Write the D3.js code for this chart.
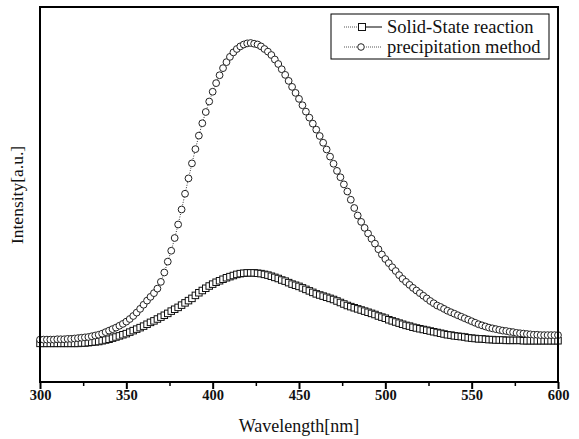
<!DOCTYPE html>
<html lang="en">
<head>
  <meta charset="UTF-8" />
  <title>Emission spectra</title>
  <script src="https://d3js.org/d3.v7.min.js"></script>
  <style>
    body { margin: 0; background: #fff; }
    svg { display: block; }
    svg text { font-family: "Times New Roman", "Liberation Serif", serif; }
  </style>
</head>
<body>
  <svg width="579" height="439"></svg>
  <script>
    // wavelength grid: one marker every 2 nm, 300..600
    const wlStart = 300, wlStep = 2;
    const xTicks = [300, 350, 400, 450, 500, 550, 600];
    const xMinorTicks = [325, 375, 425, 475, 525, 575];

    // precipitation method (circles), arbitrary units
    const precipitation = [
      11.3, 11.3, 11.3, 11.3, 11.3, 11.4, 11.4, 11.4, 11.5, 11.5,
      11.6, 11.7, 11.8, 11.9, 12.0, 12.2, 12.4, 12.6, 12.9, 13.3,
      13.7, 14.1, 14.5, 15.0, 15.5, 16.1, 16.8, 17.6, 18.5, 19.5,
      20.6, 21.7, 22.7, 23.7, 24.9, 26.7, 29.2, 32.1, 35.0, 38.4,
      42.0, 46.0, 50.2, 54.3, 58.3, 62.1, 65.7, 69.0, 72.0, 74.8,
      77.4, 79.7, 81.8, 83.7, 85.3, 86.7, 87.9, 88.8, 89.5, 90.0,
      90.3, 90.4, 90.2, 90.0, 89.5, 88.8, 88.1, 87.2, 86.0, 84.8,
      83.4, 81.9, 80.3, 78.7, 77.1, 75.5, 73.8, 72.1, 70.5, 68.9,
      67.3, 65.6, 63.8, 62.0, 60.1, 58.2, 56.3, 54.6, 52.7, 50.8,
      48.6, 46.4, 44.4, 42.7, 41.1, 39.6, 38.2, 36.9, 35.4, 34.0,
      32.8, 31.7, 30.6, 29.6, 28.5, 27.5, 26.7, 25.9, 25.1, 24.4,
      23.7, 23.0, 22.3, 21.6, 21.0, 20.4, 20.0, 19.5, 19.0, 18.6,
      18.2, 17.8, 17.4, 17.0, 16.6, 16.2, 15.8, 15.4, 15.1, 14.8,
      14.5, 14.3, 14.1, 13.9, 13.7, 13.6, 13.4, 13.3, 13.1, 13.0,
      12.9, 12.8, 12.7, 12.6, 12.6, 12.5, 12.5, 12.5, 12.5, 12.5,
      12.5
    ];

    // solid-state reaction (squares)
    const solidState = [
      10.3, 10.3, 10.3, 10.3, 10.3, 10.3, 10.3, 10.3, 10.3, 10.3,
      10.3, 10.3, 10.4, 10.4, 10.5, 10.6, 10.7, 10.8, 11.0, 11.2,
      11.4, 11.7, 12.0, 12.3, 12.6, 12.9, 13.3, 13.7, 14.1, 14.5,
      14.9, 15.4, 15.9, 16.3, 16.8, 17.3, 17.8, 18.3, 18.9, 19.4,
      19.9, 20.5, 21.1, 21.7, 22.3, 23.1, 23.8, 24.4, 25.0, 25.6,
      26.1, 26.6, 27.0, 27.4, 27.8, 28.1, 28.4, 28.7, 28.9, 29.0,
      29.1, 29.1, 29.1, 29.0, 28.9, 28.7, 28.5, 28.2, 27.9, 27.6,
      27.2, 26.9, 26.5, 26.1, 25.8, 25.5, 25.1, 24.7, 24.3, 23.9,
      23.5, 23.2, 22.9, 22.6, 22.3, 22.0, 21.6, 21.2, 20.8, 20.4,
      20.1, 19.8, 19.5, 19.2, 18.9, 18.6, 18.3, 18.0, 17.6, 17.3,
      17.0, 16.6, 16.3, 16.0, 15.7, 15.4, 15.1, 14.9, 14.6, 14.4,
      14.2, 14.0, 13.8, 13.6, 13.4, 13.2, 13.0, 12.8, 12.6, 12.5,
      12.3, 12.2, 12.1, 12.0, 11.8, 11.7, 11.6, 11.5, 11.5, 11.4,
      11.3, 11.3, 11.2, 11.2, 11.2, 11.1, 11.1, 11.1, 11.1, 11.1,
      11.0, 11.0, 11.0, 11.0, 11.0, 11.0, 11.0, 11.0, 11.0, 11.0,
      11.0
    ];

    const serif = "'Times New Roman', 'Liberation Serif', serif";
    const svg = d3.select("svg");
    const plot = { left: 40, right: 558, top: 7, bottom: 382 };

    const x = d3.scaleLinear().domain([300, 600]).range([plot.left, plot.right]);
    const y = d3.scaleLinear().domain([0, 100]).range([plot.bottom, plot.top]);

    const toPoints = arr => arr.map((v, i) => ({ wl: wlStart + i * wlStep, v }));
    const solidPts = toPoints(solidState);
    const precPts = toPoints(precipitation);

    const line = d3.line().x(d => x(d.wl)).y(d => y(d.v));

    // bottom axis: major + minor ticks
    const axis = svg.append("g")
      .attr("transform", `translate(0,${plot.bottom})`)
      .call(d3.axisBottom(x).tickValues(xTicks).tickSize(7).tickPadding(1).tickFormat(d3.format("d")));
    axis.attr("font-family", serif);
    axis.select(".domain").remove();
    axis.selectAll("line").attr("stroke", "#000").attr("stroke-width", 2);
    axis.selectAll("text")
      .style("font-family", serif)
      .attr("font-size", 14.5)
      .attr("font-weight", "bold")
      .attr("fill", "#111");

    const minor = svg.append("g")
      .attr("transform", `translate(0,${plot.bottom})`)
      .call(d3.axisBottom(x).tickValues(xMinorTicks).tickSize(4).tickFormat(""));
    minor.select(".domain").remove();
    minor.selectAll("line").attr("stroke", "#000").attr("stroke-width", 1.5);

    // series: solid state (line + squares)
    svg.append("path")
      .datum(solidPts)
      .attr("fill", "none")
      .attr("stroke", "#000")
      .attr("stroke-width", 1)
      .attr("d", line);

    const sq = 6.5;
    svg.append("g").selectAll("rect")
      .data(solidPts)
      .enter()
      .append("rect")
      .attr("x", d => x(d.wl) - sq / 2)
      .attr("y", d => y(d.v) - sq / 2)
      .attr("width", sq)
      .attr("height", sq)
      .attr("fill", "#fff")
      .attr("stroke", "#111")
      .attr("stroke-width", 1);

    // series: precipitation (dotted line + circles)
    svg.append("path")
      .datum(precPts)
      .attr("fill", "none")
      .attr("stroke", "#333")
      .attr("stroke-width", 1)
      .attr("stroke-dasharray", "1,1.5")
      .attr("d", line);

    svg.append("g").selectAll("circle")
      .data(precPts)
      .enter()
      .append("circle")
      .attr("cx", d => x(d.wl))
      .attr("cy", d => y(d.v))
      .attr("r", 3.4)
      .attr("fill", "#fff")
      .attr("stroke", "#222")
      .attr("stroke-width", 1);

    // frame
    svg.append("rect")
      .attr("x", plot.left)
      .attr("y", plot.top)
      .attr("width", plot.right - plot.left)
      .attr("height", plot.bottom - plot.top)
      .attr("fill", "none")
      .attr("stroke", "#000")
      .attr("stroke-width", 2);

    // axis titles
    svg.append("text")
      .attr("x", (plot.left + plot.right) / 2)
      .attr("y", 432)
      .attr("text-anchor", "middle")
      .style("font-family", serif)
      .attr("font-size", 18)
      .attr("fill", "#111")
      .text("Wavelength[nm]");

    svg.append("text")
      .attr("transform", "translate(23,195) rotate(-90)")
      .attr("text-anchor", "middle")
      .style("font-family", serif)
      .attr("font-size", 17.5)
      .attr("fill", "#111")
      .text("Intensity[a.u.]");

    // legend
    const legend = svg.append("g");
    legend.append("rect")
      .attr("x", 331).attr("y", 14)
      .attr("width", 218).attr("height", 45)
      .attr("fill", "#fff")
      .attr("stroke", "#000")
      .attr("stroke-width", 1);

    const rows = [
      { label: "Solid-State reaction", cy: 27, shape: "square" },
      { label: "precipitation method", cy: 47, shape: "circle" }
    ];
    rows.forEach(r => {
      legend.append("line")
        .attr("x1", 344).attr("x2", 358).attr("y1", r.cy).attr("y2", r.cy)
        .attr("stroke", "#555").attr("stroke-width", 1).attr("stroke-dasharray", "1,1");
      legend.append("line")
        .attr("x1", 366).attr("x2", 382).attr("y1", r.cy).attr("y2", r.cy)
        .attr("stroke", r.shape === "square" ? "#000" : "#555")
        .attr("stroke-width", 1)
        .attr("stroke-dasharray", r.shape === "square" ? null : "1,1");
      if (r.shape === "square") {
        legend.append("rect")
          .attr("x", 362 - 3.5).attr("y", r.cy - 3.5)
          .attr("width", 7).attr("height", 7)
          .attr("fill", "#fff").attr("stroke", "#111");
      } else {
        legend.append("circle")
          .attr("cx", 361).attr("cy", r.cy).attr("r", 3.3)
          .attr("fill", "#fff").attr("stroke", "#222");
      }
      legend.append("text")
        .attr("x", 387).attr("y", r.cy + 6)
        .style("font-family", serif)
        .attr("font-size", 18.5)
        .attr("fill", "#111")
        .text(r.label);
    });
  </script>
</body>
</html>
